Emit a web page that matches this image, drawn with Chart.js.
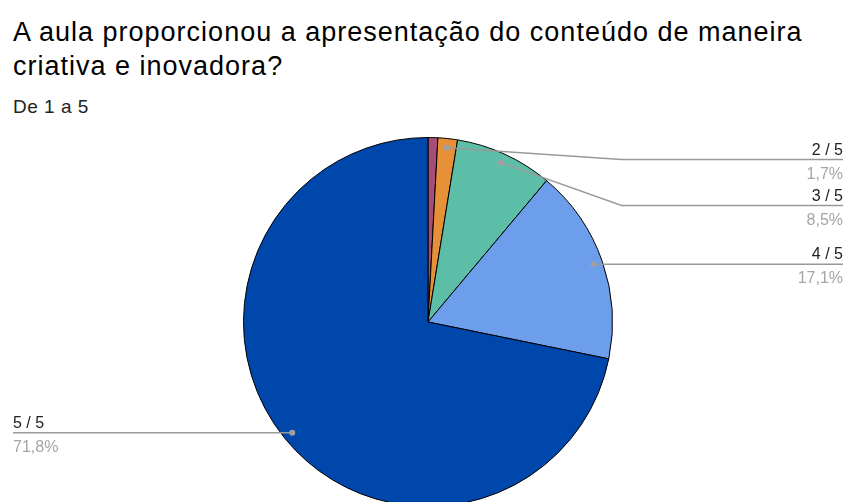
<!DOCTYPE html>
<html>
<head>
<meta charset="utf-8">
<script src="https://cdn.jsdelivr.net/npm/chart.js@4/dist/chart.umd.min.js"></script>
<style>
  html, body { margin: 0; padding: 0; background: #fff; overflow: hidden; width: 847px; height: 502px; }
  body { position: relative; font-family: "Liberation Sans", Arial, sans-serif; }
  .title { position: absolute; left: 13px; top: 15px; font-size: 27px; line-height: 34px; letter-spacing: 1px; color: #000; white-space: nowrap; }
  .subtitle { position: absolute; left: 13px; top: 96px; font-size: 19px; letter-spacing: 0.5px; color: #222; }
  .wrap { position: absolute; left: 0; top: 130px; width: 847px; height: 384px; }
</style>
</head>
<body>
<div class="title">A aula proporcionou a apresentação do conteúdo de maneira<br>criativa e inovadora?</div>
<div class="subtitle">De 1 a 5</div>
<div class="wrap"><canvas id="pieChart"></canvas></div>
<script>
/* -------------------------------
   Data (responses per rating)
--------------------------------*/
const categories = ["1 / 5", "2 / 5", "3 / 5", "4 / 5", "5 / 5"];
const responses = [1, 2, 10, 20, 84];
const sliceColors = ["#a64d79", "#e69138", "#5dbea8", "#6d9eeb", "#0047ab"];

const total = responses.reduce((a, b) => a + b, 0);

function pctLabel(v) {
  return (v / total * 100).toFixed(1).replace(".", ",") + "%";
}

/* -------------------------------
   Callout labels with leader lines
--------------------------------*/
const calloutPlugin = {
  id: "callouts",
  afterDatasetsDraw(chart) {
    const ctx = chart.ctx;
    const arcs = chart.getDatasetMeta(0).data;
    const W = chart.width;
    const right = [];
    const left = [];

    arcs.forEach((arc, i) => {
      const share = responses[i] / total;
      if (share < 0.01) return;
      const { x, y, startAngle, endAngle, outerRadius } = arc.getProps(["x", "y", "startAngle", "endAngle", "outerRadius"], true);
      const mid = (startAngle + endAngle) / 2;
      const r = outerRadius * 0.95;
      const item = {
        i, cx: x, cy: y, R: outerRadius,
        dx: x + Math.cos(mid) * r,
        dy: y + Math.sin(mid) * r
      };
      (Math.cos(mid) >= 0 ? right : left).push(item);
    });

    // push right-side labels down so they do not overlap
    right.sort((a, b) => a.dy - b.dy);
    let prev = -Infinity;
    right.forEach(it => {
      const minY = it.cy - it.R + 22;
      it.ly = Math.max(it.dy, minY, prev + 46);
      prev = it.ly;
    });
    left.forEach(it => { it.ly = it.dy; });

    ctx.save();
    const draw = (it, side) => {
      const elbowX = side === "r" ? it.cx + it.R + 9 : it.cx - it.R - 9;
      const endX = side === "r" ? W - 4 : 13;
      ctx.strokeStyle = "#999";
      ctx.lineWidth = 1.5;
      ctx.beginPath();
      ctx.moveTo(it.dx, it.dy);
      if (Math.abs(it.ly - it.dy) > 0.5) ctx.lineTo(elbowX, it.ly);
      ctx.lineTo(endX, it.ly);
      ctx.stroke();

      ctx.fillStyle = "#a0a0a0";
      ctx.beginPath();
      ctx.arc(it.dx, it.dy, 3, 0, Math.PI * 2);
      ctx.fill();

      ctx.textAlign = side === "r" ? "right" : "left";
      ctx.textBaseline = "alphabetic";
      ctx.font = "16px 'Liberation Sans', Arial, sans-serif";
      ctx.fillStyle = "#222";
      ctx.fillText(categories[it.i], endX, it.ly - 5);
      ctx.fillStyle = "#a5a5a5";
      ctx.fillText(pctLabel(responses[it.i]), endX, it.ly + 19);
    };
    right.forEach(it => draw(it, "r"));
    left.forEach(it => draw(it, "l"));
    ctx.restore();
  }
};

/* -------------------------------
   Pie Chart
--------------------------------*/
function renderPieChart() {
  const ctx = document.getElementById("pieChart");
  if (!ctx) return;

  new Chart(ctx, {
    type: "pie",
    data: {
      labels: categories,
      datasets: [
        {
          data: responses,
          backgroundColor: sliceColors,
          borderColor: "#000",
          borderWidth: 1
        }
      ]
    },
    options: {
      responsive: true,
      maintainAspectRatio: false,
      animation: false,
      layout: { padding: { left: 9, right: 0, top: 7, bottom: 7 } },
      plugins: {
        legend: { display: false },
        tooltip: { enabled: false }
      }
    },
    plugins: [calloutPlugin]
  });
}

renderPieChart();
</script>
</body>
</html>
